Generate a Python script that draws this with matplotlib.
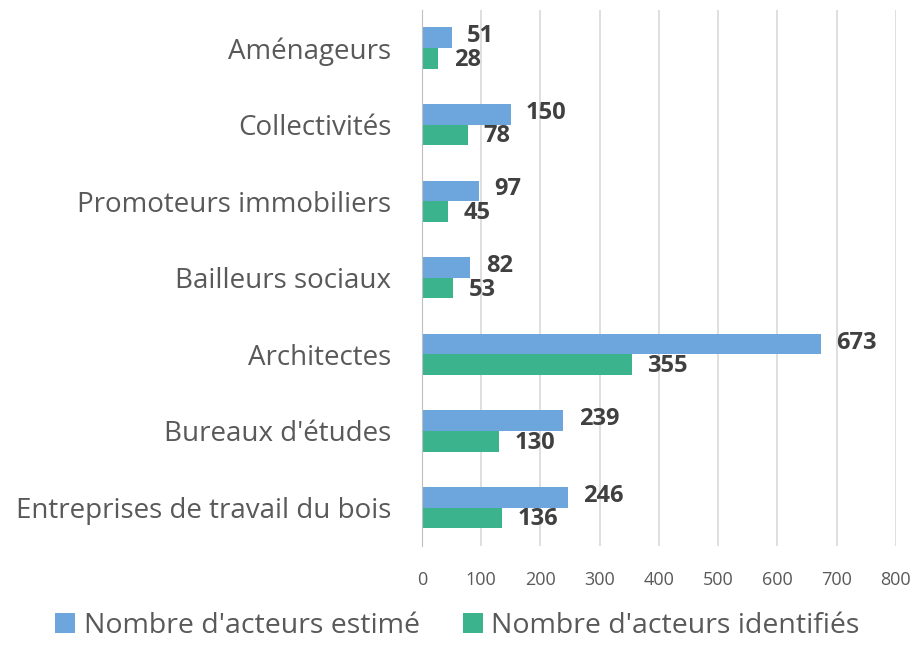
import matplotlib.pyplot as plt
import numpy as np

plt.rcParams['font.family'] = ['Open Sans', 'DejaVu Sans']

categories = ['Entreprises de travail du bois', "Bureaux d'études", 'Architectes',
              'Bailleurs sociaux', 'Promoteurs immobiliers', 'Collectivités', 'Aménageurs']
estime = [246, 239, 673, 82, 97, 150, 51]
identifies = [136, 130, 355, 53, 45, 78, 28]

blue = '#6CA6DC'
green = '#3BB38D'

fig = plt.figure(figsize=(9.15, 6.46), dpi=100)
ax = fig.add_axes([0.461, 0.155, 0.518, 0.83])

y = np.arange(len(categories))
h = 0.27
b1 = ax.barh(y + h / 2, estime, height=h, color=blue, label="Nombre d'acteurs estimé")
b2 = ax.barh(y - h / 2, identifies, height=h, color=green, label="Nombre d'acteurs identifiés")

# etiquettes de valeur, un peu decalees pour ne pas se chevaucher
for bars, dy in ((b1, 1), (b2, -1)):
    for rect in bars:
        w = rect.get_width()
        ax.annotate(str(int(w)), (w, rect.get_y() + rect.get_height() / 2),
                    xytext=(11, dy), textcoords='offset points', va='center', ha='left',
                    fontsize=17, fontweight='bold', color='#404040')

ax.set_xlim(0, 800)
ax.set_ylim(-0.5, len(categories) - 0.5)
ax.set_xticks(range(0, 801, 100))
ax.set_yticks(y)
ax.set_yticklabels(categories, fontsize=20, color='#595959')
ax.tick_params(axis='x', labelsize=13, labelcolor='#595959', length=0, pad=18)
ax.tick_params(axis='y', length=0, pad=22)
ax.grid(axis='x', color='#D9D9D9', linewidth=1.2)
ax.set_axisbelow(True)
for s in ['top', 'right', 'bottom']:
    ax.spines[s].set_visible(False)
ax.spines['left'].set_color('#BFBFBF')

fig.legend(loc='lower center', bbox_to_anchor=(0.5, 0.0), ncol=2, frameon=False,
           fontsize=20.5, labelcolor='#595959', handlelength=0.7, handleheight=0.7,
           handletextpad=0.3, columnspacing=1.5, borderpad=0.1, borderaxespad=0.1)

fig.savefig('out.png', dpi=100)
